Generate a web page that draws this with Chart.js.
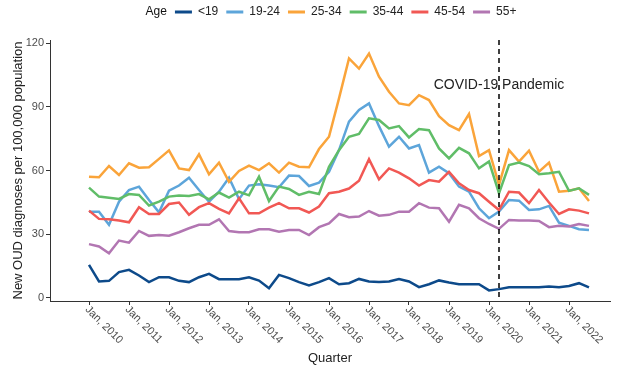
<!DOCTYPE html>
<html>
<head>
<meta charset="utf-8">
<script src="https://cdn.jsdelivr.net/npm/chart.js@4.4.1/dist/chart.umd.min.js"></script>
<style>
  body { margin: 0; background: #fff; }
  #wrap { width: 639px; height: 372px; }
</style>
</head>
<body>
<div id="wrap"><canvas id="oudChart"></canvas></div>
<script>
// Quarters 2010 Q1 .. 2022 Q3
const quarters = [];
for (let yr = 2010; yr <= 2022; yr++) {
    for (let q = 1; q <= 4; q++) {
        if (yr === 2022 && q > 3) break;
        quarters.push(yr + ' Q' + q);
    }
}

const ageGroups = ['<19', '19-24', '25-34', '35-44', '45-54', '55+'];
const ageColors = ['#0d4a8a', '#5da5da', '#faa43a', '#60bd68', '#f15854', '#b276b2'];

// New OUD diagnoses per 100,000, one value per quarter
const under19 = [15.5, 7.7, 8, 12.1, 13.2, 10.5, 7.4, 9.7, 9.7, 8,
    7.4, 9.7, 11.3, 8.8, 8.8, 8.8, 9.7, 8.1, 4.5, 10.8,
    9.3, 7.4, 5.8, 7.4, 9.3, 6.4, 6.9, 8.9, 7.7, 7.4,
    7.7, 8.8, 7.7, 5, 6.4, 8.2, 7.2, 6.4, 6.4, 6.4,
    3.5, 4.1, 5, 5, 5, 5, 5.3, 5, 5.6, 6.9,
    4.9];
const age19to24 = [40.6, 40.6, 34.4, 45.3, 50.8, 52.4, 46.1, 40.3, 50.5, 52.9,
    56.6, 50.8, 45.3, 50, 56.6, 46.5, 52.9, 53.5, 52.9, 52.1,
    57.6, 57.4, 52.7, 54.3, 59.4, 69.6, 83, 88.5, 91.6, 80.9,
    71.2, 75.9, 70.4, 72, 59, 61.8, 58.7, 52.4, 50, 42.2,
    37.5, 40.6, 46.1, 45.8, 41.4, 41.7, 43.3, 35.4, 33.9, 32.3,
    32];
const age25to34 = [57.1, 56.8, 62.1, 57.9, 63.4, 61.3, 61.5, 65.5, 69.5, 61,
    60.2, 67.6, 58.2, 63.7, 54.7, 59.8, 62.3, 60.2, 63.4, 59,
    63.7, 61.8, 61.5, 70.1, 75.9, 94, 112.8, 108, 115.1, 104.2,
    97.1, 91.6, 90.8, 95.5, 93.2, 85.6, 81.4, 79, 86.6, 66.8,
    69.6, 53.2, 69.6, 64.2, 69.3, 59.4, 63.7, 50, 50.5, 51.6,
    45.6];
const age35to44 = [51.9, 47.7, 47.2, 46.6, 48.9, 48.5, 43.5, 45.3, 47.7, 48.2,
    48, 48.9, 46.4, 49.6, 47.2, 50, 48.3, 57.1, 45.6, 52.4,
    51.3, 48.5, 50, 48.9, 61.8, 69.6, 75.9, 77.2, 84.6, 83.8,
    79.8, 80.9, 75.6, 79.5, 79, 70.4, 65.7, 70.7, 68.1, 61,
    64.2, 49.3, 62.6, 63.7, 62.1, 58.2, 58.7, 59.4, 50.4, 51.6,
    48.5];
const age45to54 = [41.1, 37.2, 37, 36.4, 35.6, 42.7, 39.5, 39.5, 44.2, 44.9,
    39.1, 42.7, 44.6, 41.9, 39.8, 46.9, 39.8, 39.8, 42.5, 44.6,
    42.2, 42.2, 40.2, 43, 49.3, 50, 51.5, 55.2, 65.3, 55.8,
    61, 59, 56.3, 52.9, 55.5, 54.7, 59.4, 54, 50.8, 49.3,
    45.3, 41.4, 50, 49.6, 44.6, 50.8, 44.9, 39.5, 41.7, 41.1,
    39.8];
const age55plus = [25.3, 24.2, 21, 27, 26, 31.5, 29.2, 29.6, 29.3, 30.9,
    32.8, 34.4, 34.4, 37, 31.5, 30.9, 30.9, 32.3, 32.3, 31.2,
    32, 32, 29.6, 33.3, 35.1, 39.5, 38, 38.3, 40.9, 38.7,
    39.1, 40.6, 40.6, 44.6, 42.5, 42.2, 35.9, 43.8, 42.2, 37.5,
    34.8, 32.5, 36.7, 36.4, 36.4, 36.2, 33.3, 34, 33.6, 34.8,
    33.9];
const seriesValues = [under19, age19to24, age25to34, age35to44, age45to54, age55plus];

// x ticks: every Jan (quarter index), y ticks
const tickQuarters = [0, 4, 8, 12, 16, 20, 24, 28, 32, 36, 40, 44, 48];
const tickLabels = ['Jan, 2010', 'Jan, 2011', 'Jan, 2012', 'Jan, 2013', 'Jan, 2014', 'Jan, 2015',
    'Jan, 2016', 'Jan, 2017', 'Jan, 2018', 'Jan, 2019', 'Jan, 2020', 'Jan, 2021', 'Jan, 2022'];
const yTicks = [0, 30, 60, 90, 120];

// COVID marker (2020 Q2)
const pandemicQuarter = 41;
const pandemicLabel = 'COVID-19 Pandemic';

const FONT = '"Liberation Sans", Arial, sans-serif';
Chart.defaults.font.family = FONT;

// extra space under the legend, and centre it on the whole canvas
const legendSpacer = {
    id: 'legendSpacer',
    afterInit(chart) {
        const fitLegend = chart.legend.fit;
        chart.legend.fit = function () {
            fitLegend.call(this);
            this.height += 12;
        };
    },
    afterLayout(chart) {
        const pad = chart.options.layout.padding;
        const shift = (pad.right - pad.left) / 2;
        chart.legend.left += shift;
        chart.legend.right += shift;
    }
};

// x labels rotated clockwise, hanging from the tick
const rotatedTicks = {
    id: 'rotatedTicks',
    afterDraw(chart) {
        const { ctx, scales: { x } } = chart;
        ctx.save();
        ctx.font = '11px ' + FONT;
        ctx.fillStyle = '#4d4d4d';
        ctx.textAlign = 'left';
        ctx.textBaseline = 'middle';
        tickQuarters.forEach((q, i) => {
            ctx.save();
            ctx.translate(x.getPixelForValue(q), x.top + 9);
            ctx.rotate(Math.PI / 4);
            ctx.fillText(tickLabels[i], -3, 0);
            ctx.restore();
        });
        ctx.restore();
    }
};

const pandemicMarker = {
    id: 'pandemicMarker',
    afterDatasetsDraw(chart) {
        const { ctx, chartArea, scales: { x, y } } = chart;
        const px = x.getPixelForValue(pandemicQuarter);
        ctx.save();
        ctx.strokeStyle = '#000';
        ctx.lineWidth = 1.5;
        ctx.setLineDash([5, 4]);
        ctx.beginPath();
        ctx.moveTo(px, chartArea.top);
        ctx.lineTo(px, chartArea.bottom);
        ctx.stroke();
        ctx.setLineDash([]);
        ctx.font = '14px ' + FONT;
        ctx.fillStyle = '#222';
        ctx.textAlign = 'center';
        ctx.textBaseline = 'middle';
        ctx.fillText(pandemicLabel, px, y.getPixelForValue(100));
        ctx.restore();
    }
};

const ctx = document.getElementById('oudChart').getContext('2d');
new Chart(ctx, {
    type: 'line',
    data: {
        labels: quarters,
        datasets: ageGroups.map((g, k) => ({
            label: g,
            data: seriesValues[k].map((v, i) => ({ x: i, y: v })),
            borderColor: ageColors[k],
            backgroundColor: ageColors[k],
            borderWidth: 2.5,
            pointRadius: 0,
            tension: 0,
            order: ageGroups.length - k
        }))
    },
    options: {
        responsive: true,
        maintainAspectRatio: false,
        animation: false,
        events: [],
        layout: { padding: { top: -2, left: 4, right: 29, bottom: 2 } },
        plugins: {
            tooltip: { enabled: false },
            legend: {
                position: 'top',
                onClick: () => {},
                labels: {
                    font: { size: 12 },
                    color: '#222',
                    boxWidth: 17,
                    boxHeight: 3,
                    padding: 8,
                    generateLabels: chart => [{ text: 'Age', fillStyle: 'rgba(0,0,0,0)', lineWidth: 0, fontColor: '#111' }]
                        .concat(chart.data.datasets.map((ds, i) => ({
                            text: ds.label,
                            fillStyle: ds.borderColor,
                            lineWidth: 0,
                            datasetIndex: i,
                            fontColor: '#222'
                        })))
                }
            }
        },
        scales: {
            x: {
                type: 'linear',
                min: -3.9,
                max: 52.1,
                afterBuildTicks: s => { s.ticks = tickQuarters.map(v => ({ value: v })); },
                afterFit: s => { s.height = 69; },
                ticks: { display: false },
                grid: { drawOnChartArea: false, drawTicks: true, tickLength: 4, color: '#333' },
                border: { display: true, color: '#333', width: 1 },
                title: { display: true, text: 'Quarter', font: { size: 13 }, color: '#222', padding: { top: 0, bottom: 4 } }
            },
            y: {
                min: -1.5,
                max: 121.5,
                afterBuildTicks: s => { s.ticks = yTicks.map(v => ({ value: v })); },
                afterFit: s => { s.width = 46; },
                ticks: { font: { size: 11 }, color: '#4d4d4d', padding: 2 },
                grid: { drawOnChartArea: false, drawTicks: true, tickLength: 4, color: '#333' },
                border: { display: true, color: '#333', width: 1 },
                title: { display: true, text: 'New OUD diagnoses per 100,000 population', font: { size: 13 }, color: '#222', padding: { top: 7, bottom: 0 } }
            }
        }
    },
    plugins: [legendSpacer, rotatedTicks, pandemicMarker]
});
</script>
</body>
</html>
